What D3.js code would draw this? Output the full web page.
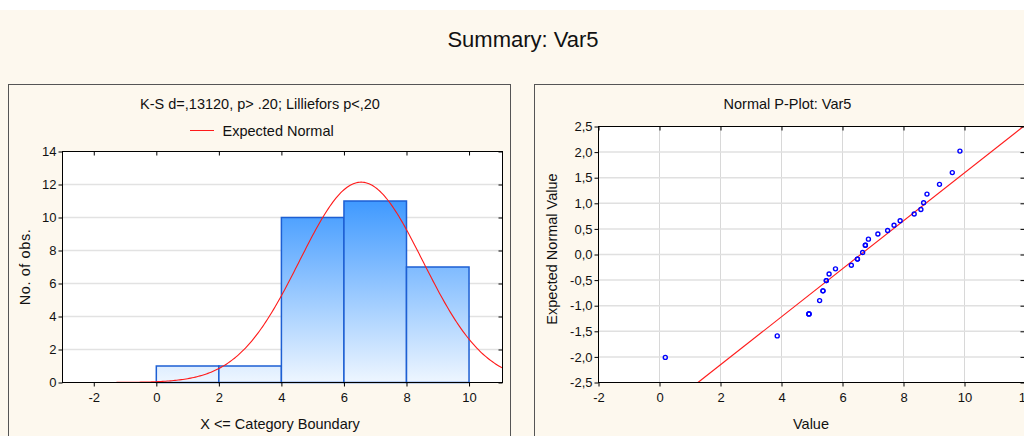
<!DOCTYPE html>
<html>
<head>
<meta charset="utf-8">
<script src="https://cdn.jsdelivr.net/npm/d3@7"></script>
<style>
  body { margin: 0; background: #fff; }
  svg { display: block; font-family: "Liberation Sans", Arial, sans-serif; }
</style>
</head>
<body>
<div id="chart"></div>
<script>
// histogram (left panel)
const binLower = [0, 2, 4, 6, 8]
const binUpper = [2, 4, 6, 8, 10]
const binCounts = [1, 1, 10, 11, 7]
const histXTicks = [-2, 0, 2, 4, 6, 8, 10]
const histYTicks = [0, 2, 4, 6, 8, 10, 12, 14]

// normal probability plot (right panel), values sorted
const obsValues = [0.19, 3.86, 4.90, 4.90, 4.90, 5.25, 5.36, 5.36, 5.47, 5.47,
  5.56, 5.77, 6.29, 6.49, 6.49, 6.66, 6.75, 6.75, 6.85, 7.16,
  7.48, 7.69, 7.89, 8.35, 8.57, 8.66, 8.77, 9.18, 9.60, 9.85]
const expectedNormal = [-2.01, -1.59, -1.16, -1.16, -1.16, -0.90, -0.71, -0.71, -0.51, -0.51,
  -0.38, -0.28, -0.21, -0.09, -0.09, 0.04, 0.18, 0.18, 0.30, 0.40,
  0.47, 0.57, 0.66, 0.79, 0.88, 1.01, 1.18, 1.37, 1.60, 2.02]
const fitLineX = [1.26, 11.93]
const fitLineY = [-2.5, 2.5]
const pXTicks = [-2, 0, 2, 4, 6, 8, 10, 12]
const pYTicks = [-2.5, -2, -1.5, -1, -0.5, 0, 0.5, 1, 1.5, 2, 2.5]

const W = 1024, H = 436
const TEXT = "#111"
const LABEL_SIZE = 14.5
const loc = d3.formatLocale({ decimal: ",", thousands: ".", grouping: [3], currency: ["", ""], minus: "-" })

const svg = d3.select("#chart").append("svg")
  .attr("width", W).attr("height", H)

svg.append("rect").attr("width", W).attr("height", H).attr("fill", "#fff")
svg.append("rect").attr("y", 10).attr("width", W).attr("height", H - 10).attr("fill", "#fdf8ee")

svg.append("text")
  .attr("x", 523).attr("y", 47)
  .attr("text-anchor", "middle")
  .attr("font-size", 22).attr("fill", TEXT)
  .text("Summary: Var5")

// panel frames
svg.append("rect").attr("x", 8.5).attr("y", 84.5).attr("width", 502).attr("height", 400)
  .attr("fill", "none").attr("stroke", "#555")
svg.append("rect").attr("x", 534.5).attr("y", 84.5).attr("width", 600).attr("height", 400)
  .attr("fill", "none").attr("stroke", "#555")

const defs = svg.append("defs")

function styleAxis(g) {
  g.attr("font-family", null).attr("font-size", 13)
  g.select(".domain").remove()
  g.selectAll("line").attr("stroke", "#000")
  g.selectAll("text").attr("fill", TEXT)
}

// ---------------- HISTOGRAM ----------------
const HL = 62.5, HR = 502.5, HT = 151.5, HB = 382.5
const xH = d3.scaleLinear().domain([-3, 11.07]).range([HL, HR])
const yH = d3.scaleLinear().domain([0, 14]).range([HB, HT])

defs.append("clipPath").attr("id", "clipH")
  .append("rect").attr("x", HL).attr("y", HT).attr("width", HR - HL).attr("height", HB - HT)

const grad = defs.append("linearGradient").attr("id", "barGrad")
  .attr("gradientUnits", "userSpaceOnUse")
  .attr("x1", 0).attr("x2", 0).attr("y1", yH(14)).attr("y2", yH(0))
grad.append("stop").attr("offset", "0%").attr("stop-color", "#1080ff")
grad.append("stop").attr("offset", "100%").attr("stop-color", "#eef6ff")

svg.append("rect").attr("x", HL).attr("y", HT).attr("width", HR - HL).attr("height", HB - HT)
  .attr("fill", "#fff")

svg.append("g").selectAll("line")
  .data(histYTicks.filter(d => d > 0 && d < 14))
  .join("line")
    .attr("x1", HL).attr("x2", HR)
    .attr("y1", d => yH(d)).attr("y2", d => yH(d))
    .attr("stroke", "#e2e2e2").attr("stroke-width", 1.5)

const bins = d3.zip(binLower, binUpper, binCounts)
svg.append("g").selectAll("rect")
  .data(bins)
  .join("rect")
    .attr("x", d => xH(d[0]))
    .attr("y", d => yH(d[2]))
    .attr("width", d => xH(d[1]) - xH(d[0]))
    .attr("height", d => yH(0) - yH(d[2]))
    .attr("fill", "url(#barGrad)")
    .attr("stroke", "#1d5fd3").attr("stroke-width", 1.5)

// expected normal curve from the observed values
const nObs = obsValues.length
const mu = d3.mean(obsValues), sd = d3.deviation(obsValues)
const binW = binUpper[0] - binLower[0]
const curveX = d3.range(-3, 11.1, 0.05)
const normal = x => nObs * binW / (sd * Math.sqrt(2 * Math.PI)) * Math.exp(-0.5 * ((x - mu) / sd) ** 2)
svg.append("path")
  .datum(curveX)
  .attr("clip-path", "url(#clipH)")
  .attr("fill", "none").attr("stroke", "#ff1a1a").attr("stroke-width", 1.1)
  .attr("d", d3.line().x(d => xH(d)).y(d => yH(normal(d))))

svg.append("g").attr("transform", `translate(${HL},0)`)
  .call(d3.axisLeft(yH).tickValues(histYTicks).tickSize(4).tickPadding(2).tickFormat(loc.format("d")))
  .call(styleAxis)
svg.append("g").attr("transform", `translate(0,${HB})`)
  .call(d3.axisBottom(xH).tickValues(histXTicks).tickSize(4).tickPadding(6).tickFormat(loc.format("d")))
  .call(styleAxis)
svg.append("g").attr("transform", `translate(0,${HT})`)
  .call(d3.axisTop(xH).tickValues(histXTicks).tickSize(-4).tickFormat(""))
  .call(styleAxis)
svg.append("g").attr("transform", `translate(${HR},0)`)
  .call(d3.axisRight(yH).tickValues(histYTicks).tickSize(-4).tickFormat(""))
  .call(styleAxis)
svg.append("rect").attr("x", HL).attr("y", HT).attr("width", HR - HL).attr("height", HB - HT)
  .attr("fill", "none").attr("stroke", "#000")

svg.append("text").attr("x", 260).attr("y", 109).attr("text-anchor", "middle")
  .attr("font-size", LABEL_SIZE).attr("fill", TEXT)
  .text("K-S d=,13120, p> .20; Lilliefors p<,20")
svg.append("line").attr("x1", 190).attr("x2", 214).attr("y1", 130.5).attr("y2", 130.5)
  .attr("stroke", "#ff1a1a")
svg.append("text").attr("x", 222.5).attr("y", 135.5).attr("font-size", LABEL_SIZE).attr("fill", TEXT)
  .text("Expected Normal")
svg.append("text").attr("transform", "translate(30,267) rotate(-90)")
  .attr("text-anchor", "middle").attr("font-size", LABEL_SIZE).attr("fill", TEXT)
  .attr("letter-spacing", 0.6)
  .text("No. of obs.")
svg.append("text").attr("x", 280).attr("y", 428.5).attr("text-anchor", "middle")
  .attr("font-size", LABEL_SIZE).attr("fill", TEXT)
  .attr("xml:space", "preserve")
  .text("X <= Category Boundary")

// ---------------- NORMAL P-PLOT ----------------
const PL = 598.5, PR = 1025.5, PT = 126.5, PB = 382.5
const xP = d3.scaleLinear().domain([-2, 12]).range([PL, PR])
const yP = d3.scaleLinear().domain([-2.5, 2.5]).range([PB, PT])

defs.append("clipPath").attr("id", "clipP")
  .append("rect").attr("x", PL).attr("y", PT).attr("width", PR - PL).attr("height", PB - PT)

svg.append("rect").attr("x", PL).attr("y", PT).attr("width", PR - PL).attr("height", PB - PT)
  .attr("fill", "#fff")

svg.append("g").selectAll("line")
  .data(pXTicks.filter(d => d > -2 && d < 12))
  .join("line")
    .attr("x1", d => xP(d)).attr("x2", d => xP(d))
    .attr("y1", PT).attr("y2", PB)
    .attr("stroke", "#d8d8d8")
svg.append("g").selectAll("line")
  .data(pYTicks.filter(d => d > -2.5 && d < 2.5))
  .join("line")
    .attr("x1", PL).attr("x2", PR)
    .attr("y1", d => yP(d)).attr("y2", d => yP(d))
    .attr("stroke", "#e0e0e0").attr("stroke-width", 1.5)

svg.append("path")
  .datum(d3.zip(fitLineX, fitLineY))
  .attr("clip-path", "url(#clipP)")
  .attr("fill", "none").attr("stroke", "#ff1a1a").attr("stroke-width", 1.1)
  .attr("d", d3.line().x(d => xP(d[0])).y(d => yP(d[1])))

svg.append("g").selectAll("circle")
  .data(d3.zip(obsValues, expectedNormal))
  .join("circle")
    .attr("cx", d => xP(d[0]))
    .attr("cy", d => yP(d[1]))
    .attr("r", 2)
    .attr("fill", "none").attr("stroke", "#0000ff").attr("stroke-width", 1.4)

svg.append("g").attr("transform", `translate(${PL},0)`)
  .call(d3.axisLeft(yP).tickValues(pYTicks).tickSize(4).tickPadding(2).tickFormat(loc.format(".1f")))
  .call(styleAxis)
svg.append("g").attr("transform", `translate(0,${PB})`)
  .call(d3.axisBottom(xP).tickValues(pXTicks).tickSize(4).tickPadding(6).tickFormat(loc.format("d")))
  .call(styleAxis)
svg.append("g").attr("transform", `translate(0,${PT})`)
  .call(d3.axisTop(xP).tickValues(pXTicks).tickSize(-4).tickFormat(""))
  .call(styleAxis)
svg.append("g").attr("transform", `translate(${PR - 1},0)`)
  .call(d3.axisRight(yP).tickValues(pYTicks).tickSize(-4).tickFormat(""))
  .call(styleAxis)
svg.append("rect").attr("x", PL).attr("y", PT).attr("width", PR - PL).attr("height", PB - PT)
  .attr("fill", "none").attr("stroke", "#000")

svg.append("text").attr("x", 787.5).attr("y", 109).attr("text-anchor", "middle")
  .attr("font-size", LABEL_SIZE).attr("fill", TEXT)
  .text("Normal P-Plot: Var5")
svg.append("text").attr("transform", "translate(557,249) rotate(-90)")
  .attr("text-anchor", "middle").attr("font-size", LABEL_SIZE).attr("fill", TEXT)
  .text("Expected Normal Value")
svg.append("text").attr("x", 811).attr("y", 429).attr("text-anchor", "middle")
  .attr("font-size", LABEL_SIZE).attr("fill", TEXT)
  .text("Value")
</script>
</body>
</html>
